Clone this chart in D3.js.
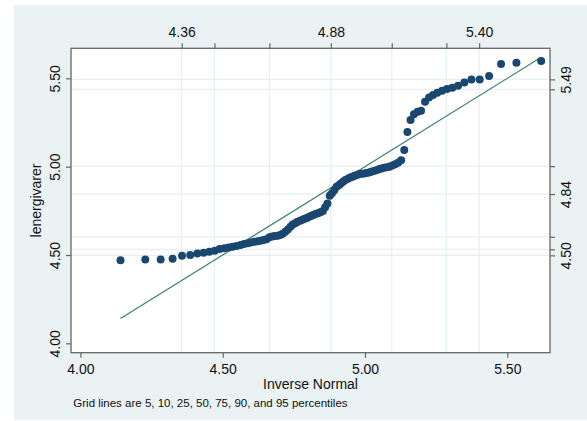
<!DOCTYPE html>
<html>
<head>
<meta charset="utf-8">
<script src="https://cdn.jsdelivr.net/npm/d3@7"></script>
<style>
  html, body { margin: 0; padding: 0; background: #fff; }
  svg { display: block; font-family: "Liberation Sans", Arial, Helvetica, sans-serif; }
</style>
</head>
<body>
<div id="chart"></div>
<script>
// inverse normal quantiles (x) and sorted lenergivarer values (y)
const inverseNormal = [
  4.141, 4.228, 4.282, 4.324, 4.357, 4.386, 4.411, 4.433, 4.453, 4.472,
  4.489, 4.506, 4.521, 4.535, 4.549, 4.563, 4.575, 4.588, 4.599, 4.611,
  4.622, 4.633, 4.644, 4.654, 4.664, 4.674, 4.683, 4.693, 4.702, 4.711,
  4.720, 4.729, 4.738, 4.746, 4.755, 4.763, 4.772, 4.780, 4.788, 4.796,
  4.804, 4.812, 4.820, 4.829, 4.837, 4.845, 4.852, 4.860, 4.868, 4.876,
  4.884, 4.892, 4.900, 4.908, 4.915, 4.923, 4.931, 4.940, 4.948, 4.956,
  4.964, 4.972, 4.980, 4.988, 4.997, 5.005, 5.014, 5.022, 5.031, 5.040,
  5.049, 5.058, 5.067, 5.077, 5.086, 5.096, 5.106, 5.116, 5.127, 5.138,
  5.149, 5.160, 5.172, 5.185, 5.197, 5.211, 5.225, 5.239, 5.254, 5.271,
  5.288, 5.307, 5.327, 5.349, 5.374, 5.403, 5.436, 5.478, 5.532, 5.619
];
const lenergivarer = [
  4.471, 4.475, 4.475, 4.479, 4.496, 4.500, 4.509, 4.513, 4.518, 4.524,
  4.534, 4.538, 4.542, 4.547, 4.551, 4.556, 4.562, 4.566, 4.571, 4.575,
  4.578, 4.581, 4.585, 4.589, 4.600, 4.605, 4.607, 4.609, 4.613, 4.620,
  4.632, 4.645, 4.660, 4.672, 4.680, 4.688, 4.694, 4.700, 4.705, 4.710,
  4.716, 4.722, 4.728, 4.733, 4.738, 4.743, 4.749, 4.770, 4.792, 4.835,
  4.849, 4.866, 4.886, 4.895, 4.905, 4.915, 4.924, 4.932, 4.938, 4.943,
  4.948, 4.953, 4.958, 4.960, 4.962, 4.964, 4.967, 4.971, 4.975, 4.980,
  4.985, 4.990, 4.994, 4.996, 5.000, 5.006, 5.013, 5.022, 5.037, 5.094,
  5.196, 5.264, 5.296, 5.311, 5.316, 5.367, 5.392, 5.405, 5.418, 5.430,
  5.439, 5.447, 5.458, 5.477, 5.494, 5.494, 5.513, 5.581, 5.588, 5.598
];

// grid lines: 5, 10, 25, 50, 75, 90, 95 percentiles
const normalPctValues = [4.356, 4.471, 4.664, 4.880, 5.094, 5.286, 5.401];
const normalPctLabels = ["4.36", "", "", "4.88", "", "", "5.40"];
const dataPctValues = [4.498, 4.532, 4.603, 4.845, 5.003, 5.438, 5.494];
const dataPctLabels = ["4.50", "", "", "4.84", "", "", "5.49"];

const xTicks = [4.0, 4.5, 5.0, 5.5];
const yTicks = [4.0, 4.5, 5.0, 5.5];

const xTitle = "Inverse Normal";
const yTitle = "lenergivarer";
const note = "Grid lines are 5, 10, 25, 50, 75, 90, and 95 percentiles";

const width = 587, height = 421;
const plot = { left: 71, right: 550, top: 48.3, bottom: 352.7 };

const svg = d3.select("#chart").append("svg")
  .attr("width", width)
  .attr("height", height);

svg.append("rect")
  .attr("width", width).attr("height", height)
  .attr("fill", "#fff");

svg.append("rect")
  .attr("x", 14).attr("y", 5)
  .attr("width", width - 14).attr("height", 415)
  .attr("fill", "#eaf2f3");

svg.append("rect")
  .attr("x", plot.left).attr("y", plot.top)
  .attr("width", plot.right - plot.left).attr("height", plot.bottom - plot.top)
  .attr("fill", "#fff");

const x = d3.scaleLinear().domain([3.967, 5.650]).range([plot.left, plot.right]);
const y = d3.scaleLinear().domain([3.947, 5.670]).range([plot.bottom, plot.top]);

// grid
svg.append("g").selectAll("line")
  .data(normalPctValues)
  .enter().append("line")
  .attr("x1", d => x(d)).attr("x2", d => x(d))
  .attr("y1", plot.top).attr("y2", plot.bottom)
  .attr("stroke", "#e6eff1").attr("stroke-width", 1.2);

svg.append("g").selectAll("line")
  .data(dataPctValues)
  .enter().append("line")
  .attr("x1", plot.left).attr("x2", plot.right)
  .attr("y1", d => y(d)).attr("y2", d => y(d))
  .attr("stroke", "#e6eff1").attr("stroke-width", 1.2);

// reference line y = x
const ext = d3.extent(inverseNormal);
svg.append("line")
  .attr("x1", x(ext[0])).attr("y1", y(ext[0]))
  .attr("x2", x(ext[1])).attr("y2", y(ext[1]))
  .attr("stroke", "#3b7f6f").attr("stroke-width", 1.2);

// points
svg.append("g").selectAll("circle")
  .data(lenergivarer)
  .enter().append("circle")
  .attr("cx", (d, i) => x(inverseNormal[i]))
  .attr("cy", d => y(d))
  .attr("r", 4)
  .attr("fill", "#1a476f");

// frame
svg.append("rect")
  .attr("x", plot.left).attr("y", plot.top)
  .attr("width", plot.right - plot.left).attr("height", plot.bottom - plot.top)
  .attr("fill", "none")
  .attr("stroke", "#666").attr("stroke-width", 1.3);

function styleAxis(g) {
  g.select(".domain").remove();
  g.selectAll(".tick line").attr("stroke", "#666").attr("stroke-width", 1.2);
  g.selectAll(".tick text")
    .attr("fill", "#111")
    .style("font-size", "14px")
    .style("font-family", "'Liberation Sans', Arial, Helvetica, sans-serif");
}

// bottom axis
svg.append("g")
  .attr("transform", `translate(0,${plot.bottom})`)
  .call(d3.axisBottom(x).tickValues(xTicks).tickFormat(d3.format(".2f")).tickSize(5).tickPadding(6))
  .call(styleAxis);

// top axis (normal percentiles)
svg.append("g")
  .attr("transform", `translate(0,${plot.top})`)
  .call(d3.axisTop(x).tickValues(normalPctValues)
    .tickFormat((d, i) => normalPctLabels[i]).tickSize(5).tickPadding(6))
  .call(styleAxis);

// left axis
svg.append("g")
  .attr("transform", `translate(${plot.left},0)`)
  .call(d3.axisLeft(y).tickValues(yTicks).tickFormat(d3.format(".2f")).tickSize(5))
  .call(styleAxis)
  .call(g => g.selectAll(".tick text")
    .attr("x", 0).attr("y", -11).attr("dy", 0)
    .attr("text-anchor", "middle")
    .attr("transform", "rotate(-90)"));

// right axis (data percentiles)
svg.append("g")
  .attr("transform", `translate(${plot.right},0)`)
  .call(d3.axisRight(y).tickValues(dataPctValues)
    .tickFormat((d, i) => dataPctLabels[i]).tickSize(5))
  .call(styleAxis)
  .call(g => g.selectAll(".tick text")
    .attr("x", 0).attr("y", 20.5).attr("dy", 0)
    .attr("text-anchor", "middle")
    .attr("transform", "rotate(-90)"));

// titles
svg.append("text")
  .attr("x", (plot.left + plot.right) / 2).attr("y", 389.3)
  .attr("text-anchor", "middle")
  .style("font-size", "14px")
  .attr("fill", "#111")
  .text(xTitle);

svg.append("text")
  .attr("transform", `translate(40.5,${(plot.top + plot.bottom) / 2}) rotate(-90)`)
  .attr("text-anchor", "middle")
  .style("font-size", "14px")
  .attr("fill", "#111")
  .text(yTitle);

svg.append("text")
  .attr("x", 73.3).attr("y", 407)
  .style("font-size", "11.5px")
  .attr("fill", "#111")
  .text(note);
</script>
</body>
</html>
